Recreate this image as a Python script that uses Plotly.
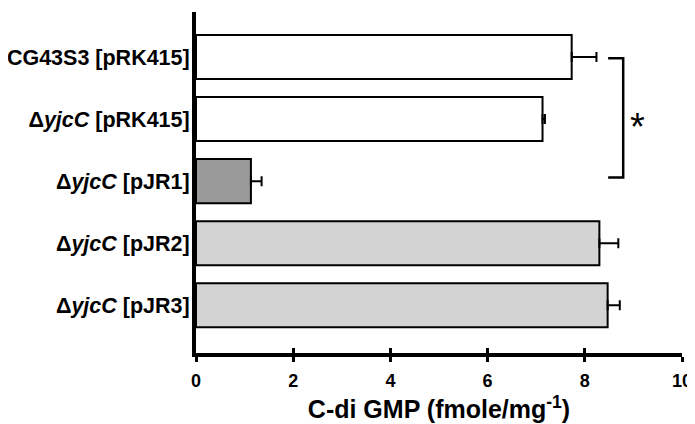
import plotly.graph_objects as go

categories = ["CG43S3 [pRK415]", "Δ<i>yjcC</i> [pRK415]", "Δ<i>yjcC</i> [pJR1]",
              "Δ<i>yjcC</i> [pJR2]", "Δ<i>yjcC</i> [pJR3]"]
values = [7.73, 7.13, 1.13, 8.30, 8.47]
errors = [0.51, 0.05, 0.22, 0.39, 0.25]
bar_colors = ["#ffffff", "#ffffff", "#999999", "#d3d3d3", "#d3d3d3"]
x_ticks = [0, 2, 4, 6, 8, 10]
x_title = "C-di GMP (fmole/mg<sup>-1</sup>)"

FONT = "Liberation Sans, Arial, sans-serif"

fig = go.Figure()
fig.add_trace(go.Bar(
    y=categories, x=values, orientation="h",
    marker=dict(color=bar_colors, line=dict(color="black", width=2)),
    width=0.71,
    error_x=dict(type="data", symmetric=False, array=errors,
                 arrayminus=[0] * len(errors), color="black",
                 thickness=2, width=5),
    showlegend=False,
))
# invisible trace on overlay axis to get crossing tick marks
fig.add_trace(go.Scatter(x=[0], y=[categories[0]], xaxis="x2", mode="markers",
                         marker=dict(opacity=0), showlegend=False, hoverinfo="skip"))

# significance bracket between the first two bars
bx0, bx1 = 8.48, 8.79
by0, by1 = 0.02, 1.94
fig.add_shape(type="path", xref="x", yref="y",
              path=f"M {bx0} {by0} L {bx1} {by0} L {bx1} {by1} L {bx0} {by1}",
              line=dict(color="black", width=2.5))
fig.add_annotation(x=9.08, y=(by0 + by1) / 2 + 0.12, xref="x", yref="y",
                   text="*", showarrow=False, yshift=-2,
                   font=dict(family=FONT, size=38, color="black"))

# page body has an 8px margin: size/margins compensate so the plot lands in place
fig.update_layout(
    width=687, height=416,
    margin=dict(l=188, r=13, t=4, b=71),
    paper_bgcolor="white", plot_bgcolor="white",
    font=dict(family=FONT, color="black"),
    xaxis=dict(
        range=[0, 10], tickvals=x_ticks, ticktext=[str(t) for t in x_ticks],
        showgrid=False, zeroline=False, automargin=False,
        showline=True, linecolor="black", linewidth=4,
        ticks="outside", ticklen=5, tickwidth=3, tickcolor="black",
        ticklabelstandoff=3,
        tickfont=dict(family=FONT, size=18, weight="bold"),
        title=dict(text=x_title, font=dict(family=FONT, size=25, weight="bold"),
                   standoff=12),
    ),
    xaxis2=dict(
        overlaying="x", side="bottom", range=[0, 10], tickvals=x_ticks,
        showticklabels=False, showgrid=False, zeroline=False, showline=False,
        automargin=False,
        ticks="inside", ticklen=5, tickwidth=3, tickcolor="black",
    ),
    yaxis=dict(
        type="category", categoryorder="array", categoryarray=categories,
        range=[4.77, -0.726], automargin=False,
        showgrid=False, zeroline=False,
        showline=True, linecolor="black", linewidth=4,
        ticks="", ticklabelstandoff=-2,
        tickfont=dict(family=FONT, size=21.5, weight="bold"),
    ),
)

fig.write_html("out.html")
